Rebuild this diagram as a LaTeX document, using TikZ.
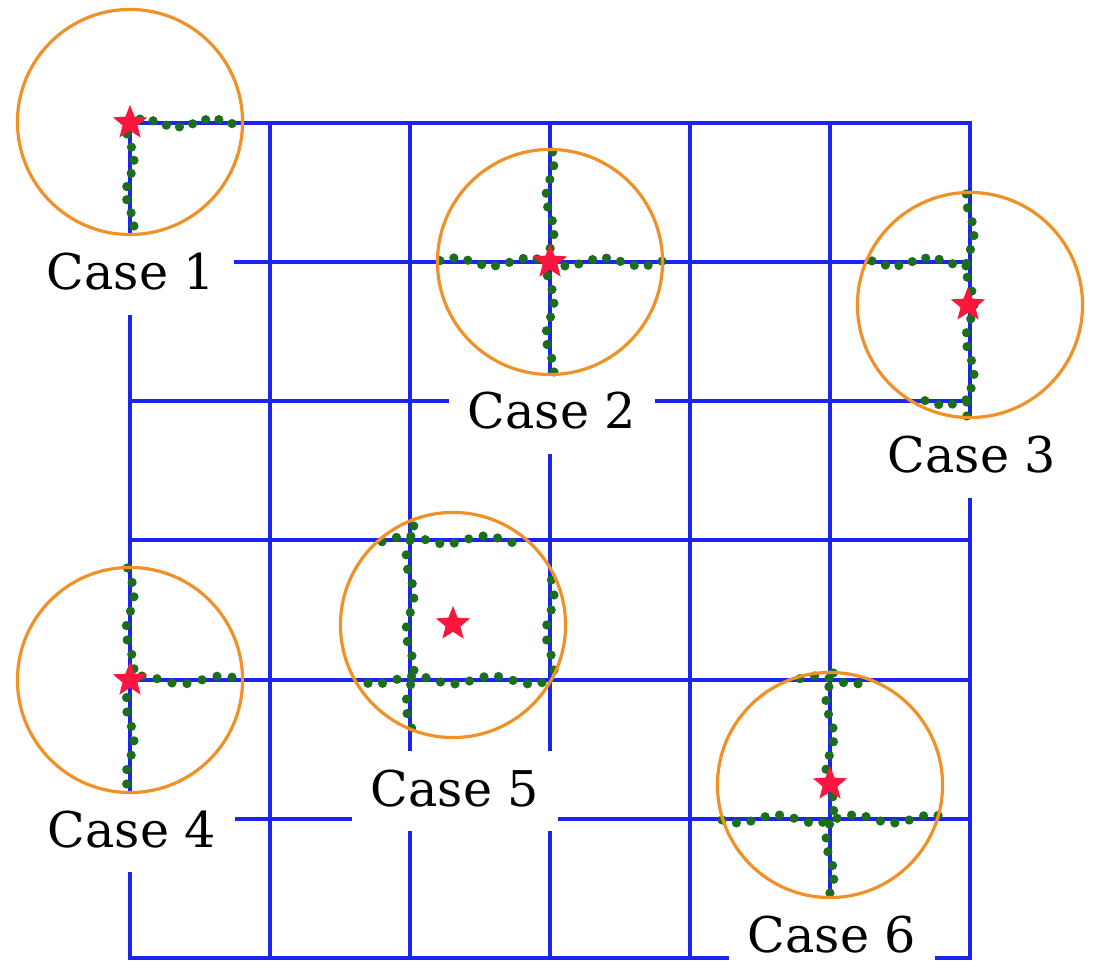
\documentclass[tikz,border=0pt]{standalone}
\usepackage{fontspec}
\setmainfont{DejaVu Serif}
\usetikzlibrary{shapes.geometric}
\definecolor{gridblue}{RGB}{28,36,240}
\definecolor{ringorange}{RGB}{240,145,40}
\definecolor{starred}{RGB}{250,22,60}
\definecolor{dotgreen}{RGB}{26,110,30}
\newcommand\hdotrow[3]{% y, x1, x2
  \pgfmathtruncatemacro\nn{round((#3-#2)/14)}
  \foreach \k in {0,...,\nn}{
    \pgfmathsetmacro\gx{#2+(#3-#2)*\k/\nn}
    \pgfmathsetmacro\gy{#1+4*sin(\k*67+#2*7)}
    \fill[dotgreen] (\gx,\gy) circle[radius=0.046cm];
  }}
\newcommand\vdotrow[3]{% x, y1, y2
  \pgfmathtruncatemacro\nn{round((#3-#2)/14)}
  \foreach \k in {0,...,\nn}{
    \pgfmathsetmacro\gy{#2+(#3-#2)*\k/\nn}
    \pgfmathsetmacro\gx{#1+4*sin(\k*71+#2*5)}
    \fill[dotgreen] (\gx,\gy) circle[radius=0.046cm];
  }}
\tikzset{
  gridline/.style={draw=gridblue, line width=0.04cm, line cap=rect},
  ring/.style={draw=ringorange, line width=0.032cm},
  starmark/.style={star, star points=5, star point ratio=2.3, fill=starred, draw=none, minimum size=0.36cm, inner sep=0pt},
  caselabel/.style={fill=white, inner sep=0pt, minimum width=2.05cm, minimum height=0.8cm, text height=0.36cm, text depth=0.06cm, font=\fontsize{14}{16}\selectfont},
}
\begin{document}
\begin{tikzpicture}[x=0.01cm, y=-0.01cm]
\useasboundingbox (0,0) rectangle (1106,974);
\fill[white] (0,0) rectangle (1106,974);
% grid
\foreach \i in {0,...,6} {
  \draw[gridline] (130+140*\i,123) -- (130+140*\i,958);
}
\foreach \yy in {123,262,401,540,680,819,958} {
  \draw[gridline] (130,\yy) -- (970,\yy);
}
% labels
\node[caselabel] (c1) at (131,275) {Case 1};
\node[caselabel] (c2) at (552,414) {Case 2};
\node[caselabel] (c3) at (972,458) {Case 3};
\node[caselabel] (c4) at (132,832) {Case 4};
\node[caselabel] (c5) at (455,791) {Case 5};
\node[caselabel] (c6) at (832,937) {Case 6};
% dots
\hdotrow{123}{140}{232}
\vdotrow{130}{134}{226}
\hdotrow{262}{440}{662}
\vdotrow{550}{152}{372}
\vdotrow{970}{194}{416}
\hdotrow{262}{872}{966}
\hdotrow{401}{925}{966}
\vdotrow{130}{568}{784}
\hdotrow{680}{142}{232}
\vdotrow{410}{526}{728}
\vdotrow{550}{580}{670}
\hdotrow{540}{382}{512}
\hdotrow{680}{368}{542}
\vdotrow{830}{673}{893}
\hdotrow{819}{722}{938}
\hdotrow{680}{800}{858}
% circles
\draw[ring] (130,122) circle[radius=1.125cm];
\draw[ring] (550,262) circle[radius=1.125cm];
\draw[ring] (970,305) circle[radius=1.125cm];
\draw[ring] (130,680) circle[radius=1.125cm];
\draw[ring] (453,625) circle[radius=1.125cm];
\draw[ring] (830,785) circle[radius=1.125cm];
% stars
\node[starmark] (s1) at (130,123) {};
\node[starmark] (s2) at (550,262) {};
\node[starmark] (s3) at (968,305) {};
\node[starmark] (s4) at (130,680) {};
\node[starmark] (s5) at (453,624) {};
\node[starmark] (s6) at (830,784) {};
\end{tikzpicture}
\end{document}
